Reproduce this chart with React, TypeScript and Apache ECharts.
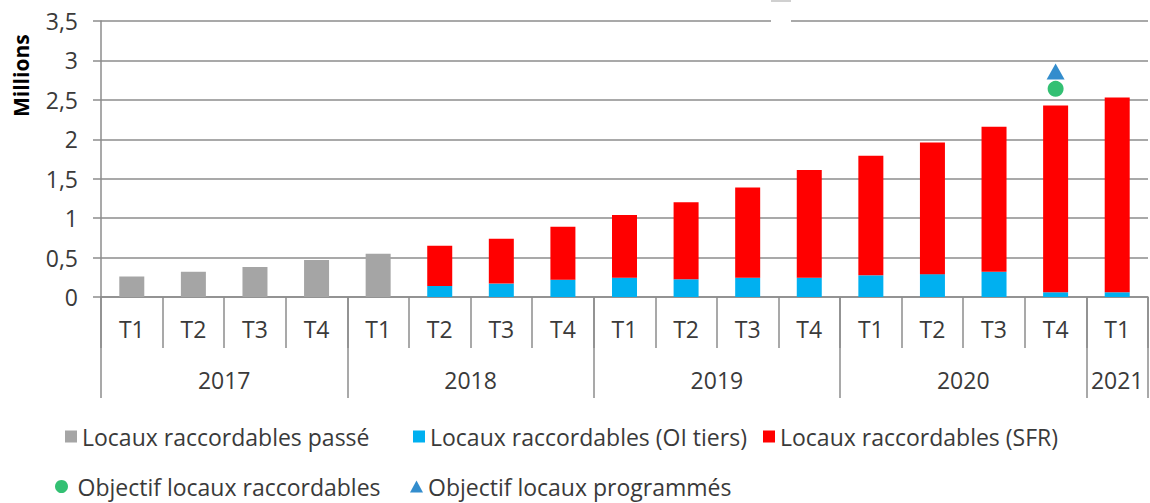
import React, { useEffect, useRef } from "react";
import * as echarts from "echarts";

const quarters = ["T1","T2","T3","T4","T1","T2","T3","T4","T1","T2","T3","T4","T1","T2","T3","T4","T1"];
const years = ["2017", "2018", "2019", "2020", "2021"];
const yearBounds = [0, 4, 8, 12, 16, 17];
const yearCenters = [2, 6, 10, 14, 16.5];

const passe = [0.26, 0.32, 0.38, 0.47, 0.55, null, null, null, null, null, null, null, null, null, null, null, null];
const oiTiers = [null, null, null, null, null, 0.14, 0.17, 0.22, 0.245, 0.225, 0.245, 0.245, 0.275, 0.29, 0.32, 0.06, 0.06];
const sfr = [null, null, null, null, null, 0.51, 0.57, 0.67, 0.795, 0.975, 1.145, 1.365, 1.515, 1.67, 1.84, 2.37, 2.47];
const objRaccordables = [null, null, null, null, null, null, null, null, null, null, null, null, null, null, null, 2.64, null];
const objProgrammes = [null, null, null, null, null, null, null, null, null, null, null, null, null, null, null, 2.86, null];

const yTicks = [0, 0.5, 1, 1.5, 2, 2.5, 3, 3.5];

const names = [
  "Locaux raccordables passé",
  "Locaux raccordables (OI tiers)",
  "Locaux raccordables (SFR)",
  "Objectif locaux raccordables",
  "Objectif locaux programmés",
];

const FONT = "Open Sans";
const TXT = "#3a3a3a";
const AXIS = "#8c8c8c";

export default function App() {
  const ref = useRef<HTMLDivElement>(null);
  useEffect(() => {
    const chart = echarts.init(ref.current!, null, { renderer: "svg" });
    const legendText = { fontFamily: FONT, fontSize: 23, color: TXT };
    chart.setOption({
      animation: false,
      textStyle: { fontFamily: FONT },
      grid: { left: 101, top: 21, right: 2, bottom: 206, containLabel: false },
      xAxis: [
        {
          type: "category",
          data: quarters,
          position: "bottom",
          axisLine: { show: true, lineStyle: { color: AXIS, width: 1.5 } },
          axisTick: { show: true, interval: 0, length: 51, lineStyle: { color: AXIS, width: 1.5 } },
          axisLabel: { interval: 0, margin: 20, fontSize: 23, color: TXT, fontFamily: FONT },
        },
        {
          type: "value",
          min: 0,
          max: 17,
          position: "bottom",
          axisLine: { show: false },
          splitLine: { show: false },
          axisTick: { show: true, customValues: yearBounds, length: 101, lineStyle: { color: AXIS, width: 1.5 } },
          axisLabel: {
            customValues: yearCenters,
            margin: 71,
            fontSize: 23,
            color: TXT,
            fontFamily: FONT,
            formatter: (v: number) => {
              const i = yearCenters.indexOf(v);
              return i >= 0 ? years[i] : "";
            },
          },
        },
      ],
      yAxis: {
        type: "value",
        min: 0,
        max: 3.5,
        interval: 0.5,
        axisLine: { show: true, lineStyle: { color: AXIS, width: 1.5 } },
        axisTick: { show: true, length: 8, lineStyle: { color: AXIS, width: 1.5 } },
        splitLine: { show: true, lineStyle: { color: AXIS, width: 1.5 } },
        axisLabel: {
          margin: 23,
          fontSize: 23,
          color: TXT,
          fontFamily: FONT,
          customValues: yTicks,
          formatter: (v: number) => String(v).replace(".", ","),
        },
      },
      legend: [
        { data: [names[0]], left: 65, top: 425, padding: 0, itemWidth: 12, itemHeight: 12, icon: "rect", textStyle: legendText },
        { data: [names[1]], left: 413, top: 425, padding: 0, itemWidth: 12, itemHeight: 12, icon: "rect", textStyle: legendText },
        { data: [names[2]], left: 763, top: 425, padding: 0, itemWidth: 12, itemHeight: 12, icon: "rect", textStyle: legendText },
        { data: [names[3]], left: 55, top: 475, padding: 0, itemWidth: 22, itemHeight: 13, icon: "circle", textStyle: legendText },
        { data: [names[4]], left: 410, top: 475, padding: 0, itemWidth: 13, itemHeight: 12, icon: "triangle", textStyle: legendText },
      ],
      graphic: [
        {
          type: "text",
          x: 10,
          y: 117,
          rotation: Math.PI / 2,
          style: { text: "Millions", font: `bold 21px "${FONT}"`, fill: "#000", textVerticalAlign: "top" },
          silent: true,
        },
        { type: "rect", shape: { x: 771, y: 15, width: 20, height: 12 }, style: { fill: "#fff" }, z: 100 },
        { type: "rect", shape: { x: 771, y: 0, width: 20, height: 2 }, style: { fill: "#d0d0d0" }, z: 100 },
      ],
      series: [
        { name: names[0], type: "bar", stack: "t", data: passe, barWidth: 25, itemStyle: { color: "#A5A5A5" } },
        { name: names[1], type: "bar", stack: "t", data: oiTiers, barWidth: 25, itemStyle: { color: "#00B0F0" } },
        { name: names[2], type: "bar", stack: "t", data: sfr, barWidth: 25, itemStyle: { color: "#FF0000" } },
        { name: names[3], type: "scatter", data: objRaccordables, symbol: "circle", symbolSize: 16, itemStyle: { color: "#00B050" }, z: 5 },
        { name: names[4], type: "scatter", data: objProgrammes, symbol: "triangle", symbolSize: [18, 16], itemStyle: { color: "#0070C0" }, z: 5 },
      ],
    });
    return () => chart.dispose();
  }, []);
  return <div ref={ref} style={{ position: "fixed", left: 0, top: 0, width: 1150, height: 503, background: "#fff" }} />;
}
